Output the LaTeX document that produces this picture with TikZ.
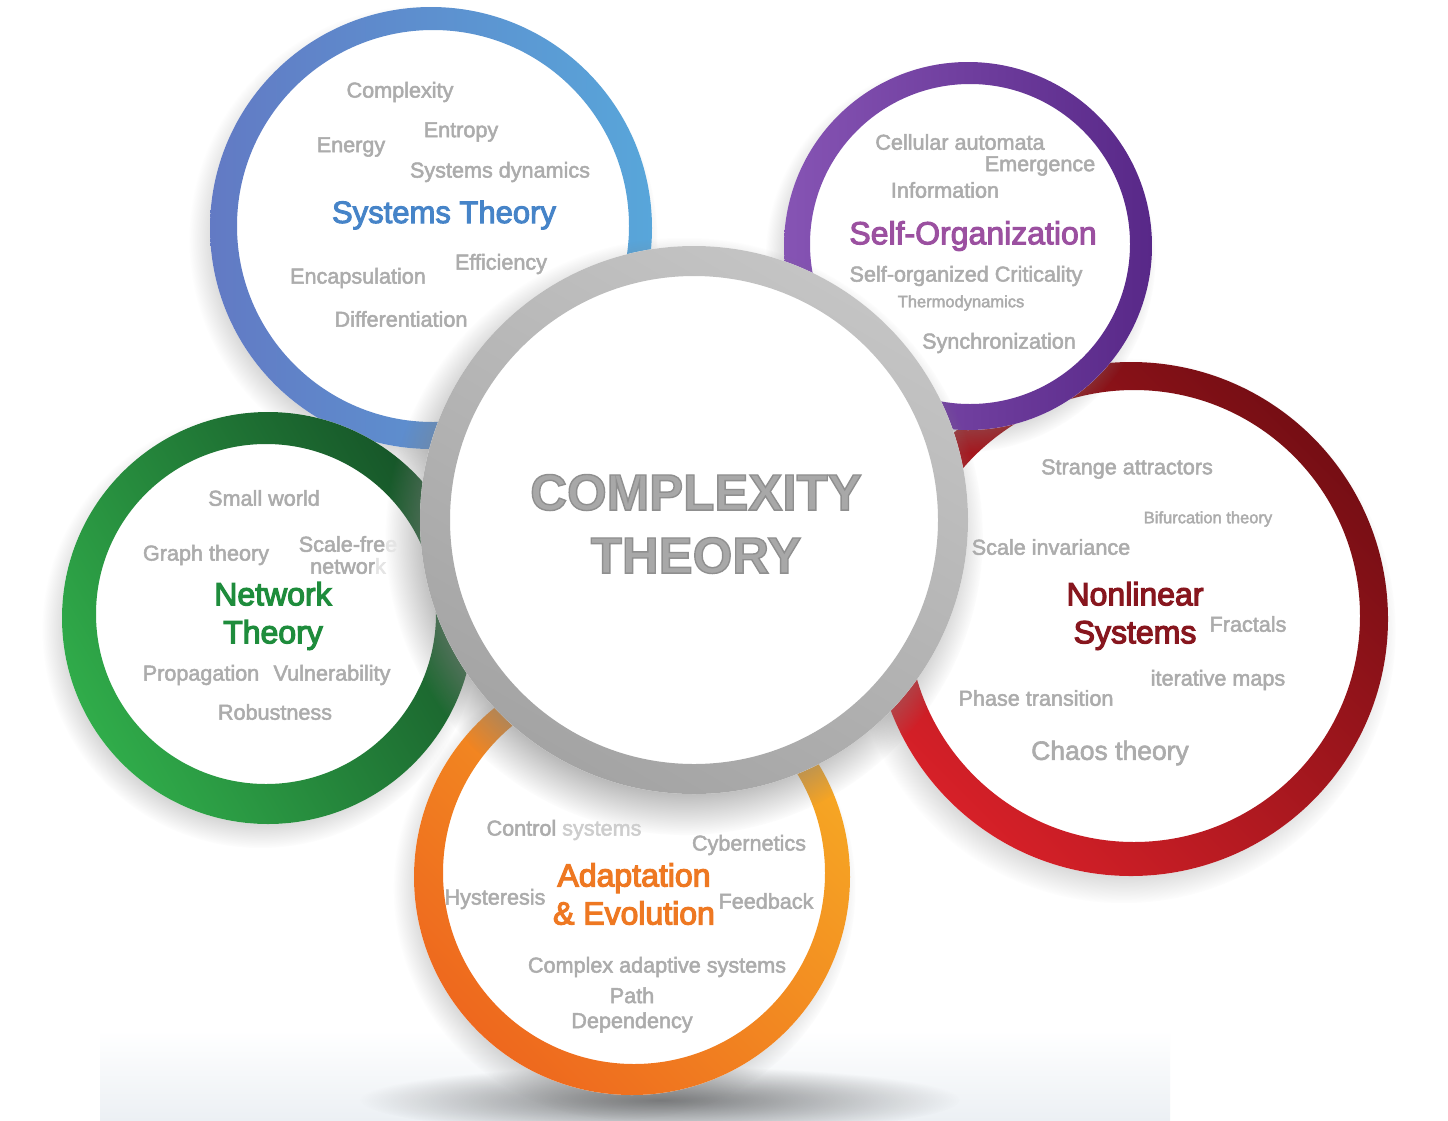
\documentclass[tikz,border=0pt]{standalone}
\usepackage{fontspec}
\setmainfont{Liberation Sans}
\usetikzlibrary{shadows,fadings}
\newcommand\embold[2]{\special{pdf:literal direct #1 w 2 Tr}#2\special{pdf:literal direct 0 Tr}}
\newcommand\outlined[1]{\special{pdf:literal direct 0.56 0.56 0.56 RG 1.4 w 2 Tr}#1\special{pdf:literal direct 0 Tr}}
\tikzfading[name=softfade, inner color=transparent!0, outer color=transparent!100]
\definecolor{wordgray}{RGB}{172,172,172}
\definecolor{lightgray2}{RGB}{205,205,205}
\definecolor{lightgray3}{RGB}{228,228,228}
\definecolor{blueT}{RGB}{70,132,200}
\definecolor{purpleT}{RGB}{155,80,160}
\definecolor{greenT}{RGB}{30,140,60}
\definecolor{redT}{RGB}{135,22,30}
\definecolor{orangeT}{RGB}{238,120,34}
\definecolor{centerT}{RGB}{168,168,168}
\definecolor{blueA}{RGB}{98,122,196}
\definecolor{blueB}{RGB}{88,166,218}
\definecolor{purpA}{RGB}{134,84,180}
\definecolor{purpB}{RGB}{88,40,136}
\definecolor{redA}{RGB}{214,32,40}
\definecolor{redB}{RGB}{118,14,20}
\definecolor{greenA}{RGB}{48,172,74}
\definecolor{greenB}{RGB}{22,84,40}
\definecolor{orA}{RGB}{238,104,30}
\definecolor{orB}{RGB}{246,168,36}
\definecolor{grayA}{RGB}{196,196,196}
\definecolor{grayB}{RGB}{164,164,164}
\definecolor{bandC}{RGB}{236,240,244}
\tikzset{
  word/.style={text=wordgray, font=\fontsize{21.6}{24}\selectfont, inner sep=0pt},
  smallword/.style={word, font=\fontsize{16.5}{19}\selectfont},
  title/.style={font=\fontsize{32}{38}\selectfont, inner sep=0pt, align=center},
  disk/.style={fill=white, circular drop shadow={shadow xshift=-7pt, shadow yshift=-11pt, shadow scale=1.06, opacity=0.4}},
}
\begin{document}
\begin{tikzpicture}[x=1pt,y=-1pt]
\useasboundingbox (0,0) rectangle (1448,1120);
\fill[white] (0,0) rectangle (1448,1120);
% floor band and shadow
\shade[top color=white, bottom color=bandC] (100,1030) rectangle (1170,1120);
\fill[black, opacity=0.5, path fading=softfade, fit fading] (660,1100) ellipse (300pt and 34pt);

% ---------- Nonlinear Systems (red)
\coordinate (nlC) at (1131,619);
\coordinate (nlI) at (1134,616);
\path[disk] (nlC) circle (257pt);
\shade[even odd rule, top color=redB, bottom color=redA, shading angle=-45] (nlC) circle (257pt) (nlI) circle (226pt);

% ---------- Self-Organization (purple)
\coordinate (soC) at (968,246);
\coordinate (soI) at (970,244);
\path[disk] (soC) circle (184pt);
\shade[even odd rule, left color=purpA, right color=purpB] (soC) circle (184pt) (soI) circle (160pt);

% ---------- Systems Theory (blue)
\coordinate (stC) at (431,228);
\coordinate (stI) at (433,226);
\path[disk] (stC) circle (221pt);
\shade[even odd rule, left color=blueA, right color=blueB] (stC) circle (221pt) (stI) circle (196pt);

% ---------- Adaptation (orange)
\coordinate (aeC) at (632,877);
\coordinate (aeI) at (634,873);
\path[disk] (aeC) circle (218pt);
\shade[even odd rule, top color=orB, bottom color=orA, shading angle=-45] (aeC) circle (218pt) (aeI) circle (191pt);

% ---------- Network Theory (green)
\coordinate (ntC) at (268,618);
\coordinate (ntI) at (266,614);
\path[disk] (ntC) circle (206pt);
\shade[even odd rule, top color=greenB, bottom color=greenA, shading angle=-60] (ntC) circle (206pt) (ntI) circle (170pt);

% ---------- Center
\coordinate (ctC) at (694,520);
\path[fill=white, circular drop shadow={shadow xshift=-9pt, shadow yshift=-15pt, shadow scale=1.09, opacity=0.55}] (ctC) circle (274pt);
\shade[even odd rule, top color=grayA, bottom color=grayB, shading angle=-30] (ctC) circle (274pt) (ctC) circle (244pt);

% ---------- Texts: Systems Theory
\node[word] (st1) at (400,92) {\embold{0.5}{Complexity}};
\node[word] (st2) at (461,132) {\embold{0.5}{Entropy}};
\node[word] (st3) at (351,147) {\embold{0.5}{Energy}};
\node[word] (st4) at (500,172) {\embold{0.5}{Systems dynamics}};
\node[title, text=blueT, font=\fontsize{31}{37}\selectfont] (stT) at (444,215) {\embold{1}{Systems Theory}};
\node[word] (st5) at (501,264) {\embold{0.5}{Efficiency}};
\node[word] (st6) at (358,278) {\embold{0.5}{Encapsulation}};
\node[word] (st7) at (401,319) {\embold{0.5}{Differentiation}};

% ---------- Texts: Self-Organization
\node[word] (so1) at (960,142) {\embold{0.5}{Cellular automata}};
\node[word] (so2) at (1040,166) {\embold{0.5}{Emergence}};
\node[word] (so3) at (945,190) {\embold{0.5}{Information}};
\node[title, text=purpleT] (soT) at (973,236) {\embold{1}{Self-Organization}};
\node[word] (so4) at (966,276) {\embold{0.5}{Self-organized Criticality}};
\node[smallword] (so5) at (961,303) {\embold{0.4}{Thermodynamics}};
\node[word] (so6) at (999,343) {\embold{0.5}{Synchronization}};

% ---------- Texts: Nonlinear
\node[word] (nl1) at (1127,469) {\embold{0.5}{Strange attractors}};
\node[smallword] (nl2) at (1208,519) {\embold{0.4}{Bifurcation theory}};
\node[word] (nl3) at (1051,547) {\embold{0.5}{Scale invariance}};
\node[title, text=redT] (nlT) at (1135,616) {\embold{1.2}{Nonlinear}\\\embold{1.2}{Systems}};
\node[word] (nl4) at (1248,624) {\embold{0.5}{Fractals}};
\node[word] (nl5) at (1218,680) {\embold{0.5}{iterative maps}};
\node[word] (nl6) at (1036,698) {\embold{0.5}{Phase transition}};
\node[word, font=\fontsize{26.5}{30}\selectfont] (nl7) at (1110,753) {\embold{0.6}{Chaos theory}};

% ---------- Texts: Network
\node[word] (nt1) at (264,498) {\embold{0.5}{Small world}};
\node[word] (nt2) at (206,555) {\embold{0.5}{Graph theory}};
\node[word, align=center] (nt3) at (348,555) {\embold{0.5}{Scale-fre\textcolor{lightgray3}{e}}\\[-2pt]\embold{0.5}{networ\textcolor{lightgray3}{k}}};
\node[title, text=greenT] (ntT) at (273,616) {\embold{1.2}{Network}\\\embold{1.2}{Theory}};
\node[word] (nt4) at (201,675) {\embold{0.5}{Propagation}};
\node[word] (nt5) at (332,675) {\embold{0.5}{Vulnerability}};
\node[word] (nt6) at (275,712) {\embold{0.5}{Robustness}};

% ---------- Texts: Adaptation
\node[word] (ae1) at (564,830) {\embold{0.5}{Control \textcolor{lightgray2}{systems}}};
\node[word] (ae2) at (749,845) {\embold{0.5}{Cybernetics}};
\node[title, text=orangeT] (aeT) at (634,894) {\embold{1.2}{Adaptation}\\\embold{1.2}{\& Evolution}};
\node[word] (ae3) at (495,899) {\embold{0.5}{Hysteresis}};
\node[word] (ae4) at (766,901) {\embold{0.5}{Feedback}};
\node[word] (ae5) at (657,967) {\embold{0.5}{Complex adaptive systems}};
\node[word, align=center] (ae6) at (632,1010) {\embold{0.5}{Path}\\[1pt]\embold{0.5}{Dependency}};

% ---------- Center text
\node[font=\fontsize{51}{63}\selectfont\bfseries, text=centerT, align=center, inner sep=0pt] (ctT) at (696,524) {\outlined{COMPLEXITY}\\\outlined{THEORY}};
\end{tikzpicture}
\end{document}
